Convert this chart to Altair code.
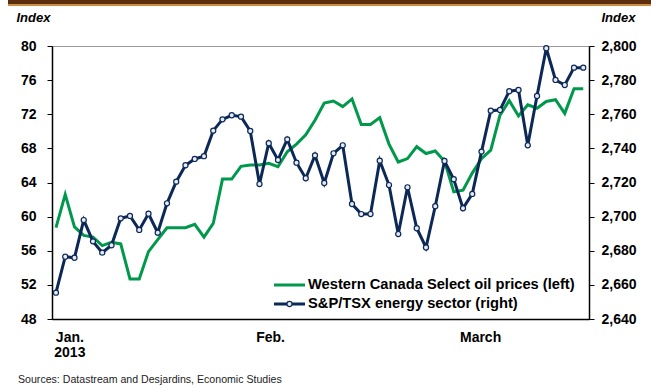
import altair as alt
import pandas as pd

# ---- data (58 trading days, Jan-Mar 2013) ----
wcs = [58.7, 62.6, 58.8, 57.8, 57.6, 56.6, 57.0, 56.8, 52.7, 52.7,
       55.9, 57.3, 58.7, 58.7, 58.7, 59.1, 57.6, 59.2, 64.4, 64.4,
       65.9, 66.05, 66.05, 66.25, 65.85, 67.6, 68.5, 69.6, 71.3, 73.3,
       73.55, 72.9, 73.8, 70.8, 70.8, 71.6, 68.5, 66.4, 66.8, 68.2,
       67.4, 67.7, 66.5, 62.9, 63.1, 65.1, 66.8, 67.8, 71.9, 73.6,
       71.8, 73.1, 72.7, 73.5, 73.7, 72.1, 75.0, 75.0]
tsx = [2655.4, 2676.5, 2675.9, 2698.0, 2685.5, 2678.9, 2683.2, 2699.0, 2700.4, 2692.2,
       2701.7, 2690.6, 2707.8, 2720.5, 2730.1, 2733.8, 2735.4, 2750.4, 2757.0, 2759.4,
       2758.6, 2750.2, 2719.1, 2743.0, 2733.2, 2745.3, 2731.6, 2722.5, 2735.9, 2719.7,
       2737.1, 2741.8, 2707.4, 2701.5, 2701.5, 2732.8, 2718.5, 2689.8, 2717.2, 2693.2,
       2681.9, 2706.1, 2732.6, 2721.9, 2704.9, 2713.3, 2738.1, 2762.1, 2762.5, 2773.5,
       2774.2, 2741.8, 2770.7, 2798.7, 2780.1, 2777.1, 2787.3, 2787.3]
day_index = list(range(len(tsx)))

month_labels = ["Jan.\n2013", "Feb.", "March"]
month_pos = [1.5, 23.2, 45.9]

left_ticks = [48, 52, 56, 60, 64, 68, 72, 76, 80]
right_ticks = [2640, 2660, 2680, 2700, 2720, 2740, 2760, 2780, 2800]

legend_labels = ["Western Canada Select oil prices (left)", "S&P/TSX energy sector (right)"]
source_text = "Sources: Datastream and Desjardins, Economic Studies"

GREEN = "#00994c"
NAVY = "#0c2857"
FONT = "Liberation Sans"

df = pd.DataFrame({"i": day_index, "wcs": wcs, "tsx": tsx})
mdf = pd.DataFrame({"pos": month_pos, "label": month_labels})
one = pd.DataFrame({"a": [0]})

X = alt.X("i:Q", scale=alt.Scale(domain=[-0.43, 57.62], nice=False, zero=False),
          axis=alt.Axis(labels=False, ticks=False, title=None, grid=False,
                        domainColor="black", domainWidth=1.5))

green = alt.Chart(df).mark_line(color=GREEN, strokeWidth=3).encode(
    x=X,
    y=alt.Y("wcs:Q", scale=alt.Scale(domain=[48, 80], nice=False, zero=False),
            axis=alt.Axis(orient="left", values=left_ticks, title="Index", grid=False,
                          titleAngle=0, titleAlign="left", titleBaseline="middle",
                          titleX=-36, titleY=-29, labelPadding=11)),
)

blue = alt.Chart(df).mark_line(
    color=NAVY, strokeWidth=3,
    point=alt.OverlayMarkDef(filled=True, fill="#e6ecf5", stroke=NAVY, strokeWidth=1.2, size=26, opacity=1),
).encode(
    x=X,
    y=alt.Y("tsx:Q", scale=alt.Scale(domain=[2640, 2800], nice=False, zero=False),
            axis=alt.Axis(orient="right", values=right_ticks, format=",.0f", title="Index", grid=False,
                          titleAngle=0, titleAlign="left", titleBaseline="middle",
                          titleX=12, titleY=-29, labelPadding=7)),
)

months = alt.Chart(mdf).mark_text(
    font=FONT, fontWeight="bold", fontSize=14, align="center", baseline="top",
    lineBreak="\n", lineHeight=15, color="black",
).encode(x=alt.X("pos:Q"), y=alt.value(285), text="label:N")

# legend (drawn manually: line + marker + label)
leg_g_line = alt.Chart(one).mark_rule(color=GREEN, strokeWidth=3).encode(
    x=alt.value(222), x2=alt.value(253), y=alt.value(239))
leg_b_line = alt.Chart(one).mark_rule(color=NAVY, strokeWidth=3).encode(
    x=alt.value(222), x2=alt.value(253), y=alt.value(258))
leg_b_pt = alt.Chart(one).mark_point(filled=True, fill="#e6ecf5", stroke=NAVY, strokeWidth=1.2,
                                     size=26, opacity=1).encode(x=alt.value(237.5), y=alt.value(258))
leg_t1 = alt.Chart(one).mark_text(font=FONT, fontWeight="bold", fontSize=14.7, align="left",
                                  baseline="middle", color="black").encode(
    x=alt.value(256), y=alt.value(239), text=alt.value(legend_labels[0]))
leg_t2 = alt.Chart(one).mark_text(font=FONT, fontWeight="bold", fontSize=14.7, align="left",
                                  baseline="middle", color="black").encode(
    x=alt.value(256), y=alt.value(258), text=alt.value(legend_labels[1]))

# decorative top band
band = alt.Chart(one).mark_rect(color="#5a2e0e").encode(
    x=alt.value(-44), x2=alt.value(599), y=alt.value(-46), y2=alt.value(-41.5))
band_line = alt.Chart(one).mark_rule(color="#d38b2e", strokeWidth=1.5).encode(
    x=alt.value(-44), x2=alt.value(599), y=alt.value(-40.8))

source = alt.Chart(one).mark_text(font=FONT, fontSize=10.6, align="left", baseline="middle",
                                  color="#222222").encode(
    x=alt.value(-34), y=alt.value(334), text=alt.value(source_text))

chart = alt.layer(
    green, blue, months, leg_g_line, leg_b_line, leg_b_pt, leg_t1, leg_t2, band, band_line, source
).resolve_scale(y="independent").properties(
    width=537, height=273,
    autosize=alt.AutoSizeParams(type="none"),
    padding={"left": 52, "top": 46, "right": 62, "bottom": 69},
    background="white",
).configure_view(
    stroke="#9a9a9a", strokeWidth=1
).configure_axis(
    labelFont=FONT, labelFontWeight="bold", labelFontSize=14, labelColor="black",
    titleFont=FONT, titleFontWeight="bold", titleFontStyle="italic", titleFontSize=13, titleColor="black",
    tickColor="black", tickSize=5, tickWidth=1, domainColor="black", domainWidth=1.5,
)

chart.save("out.html", embed_options={"renderer": "svg", "actions": False})
